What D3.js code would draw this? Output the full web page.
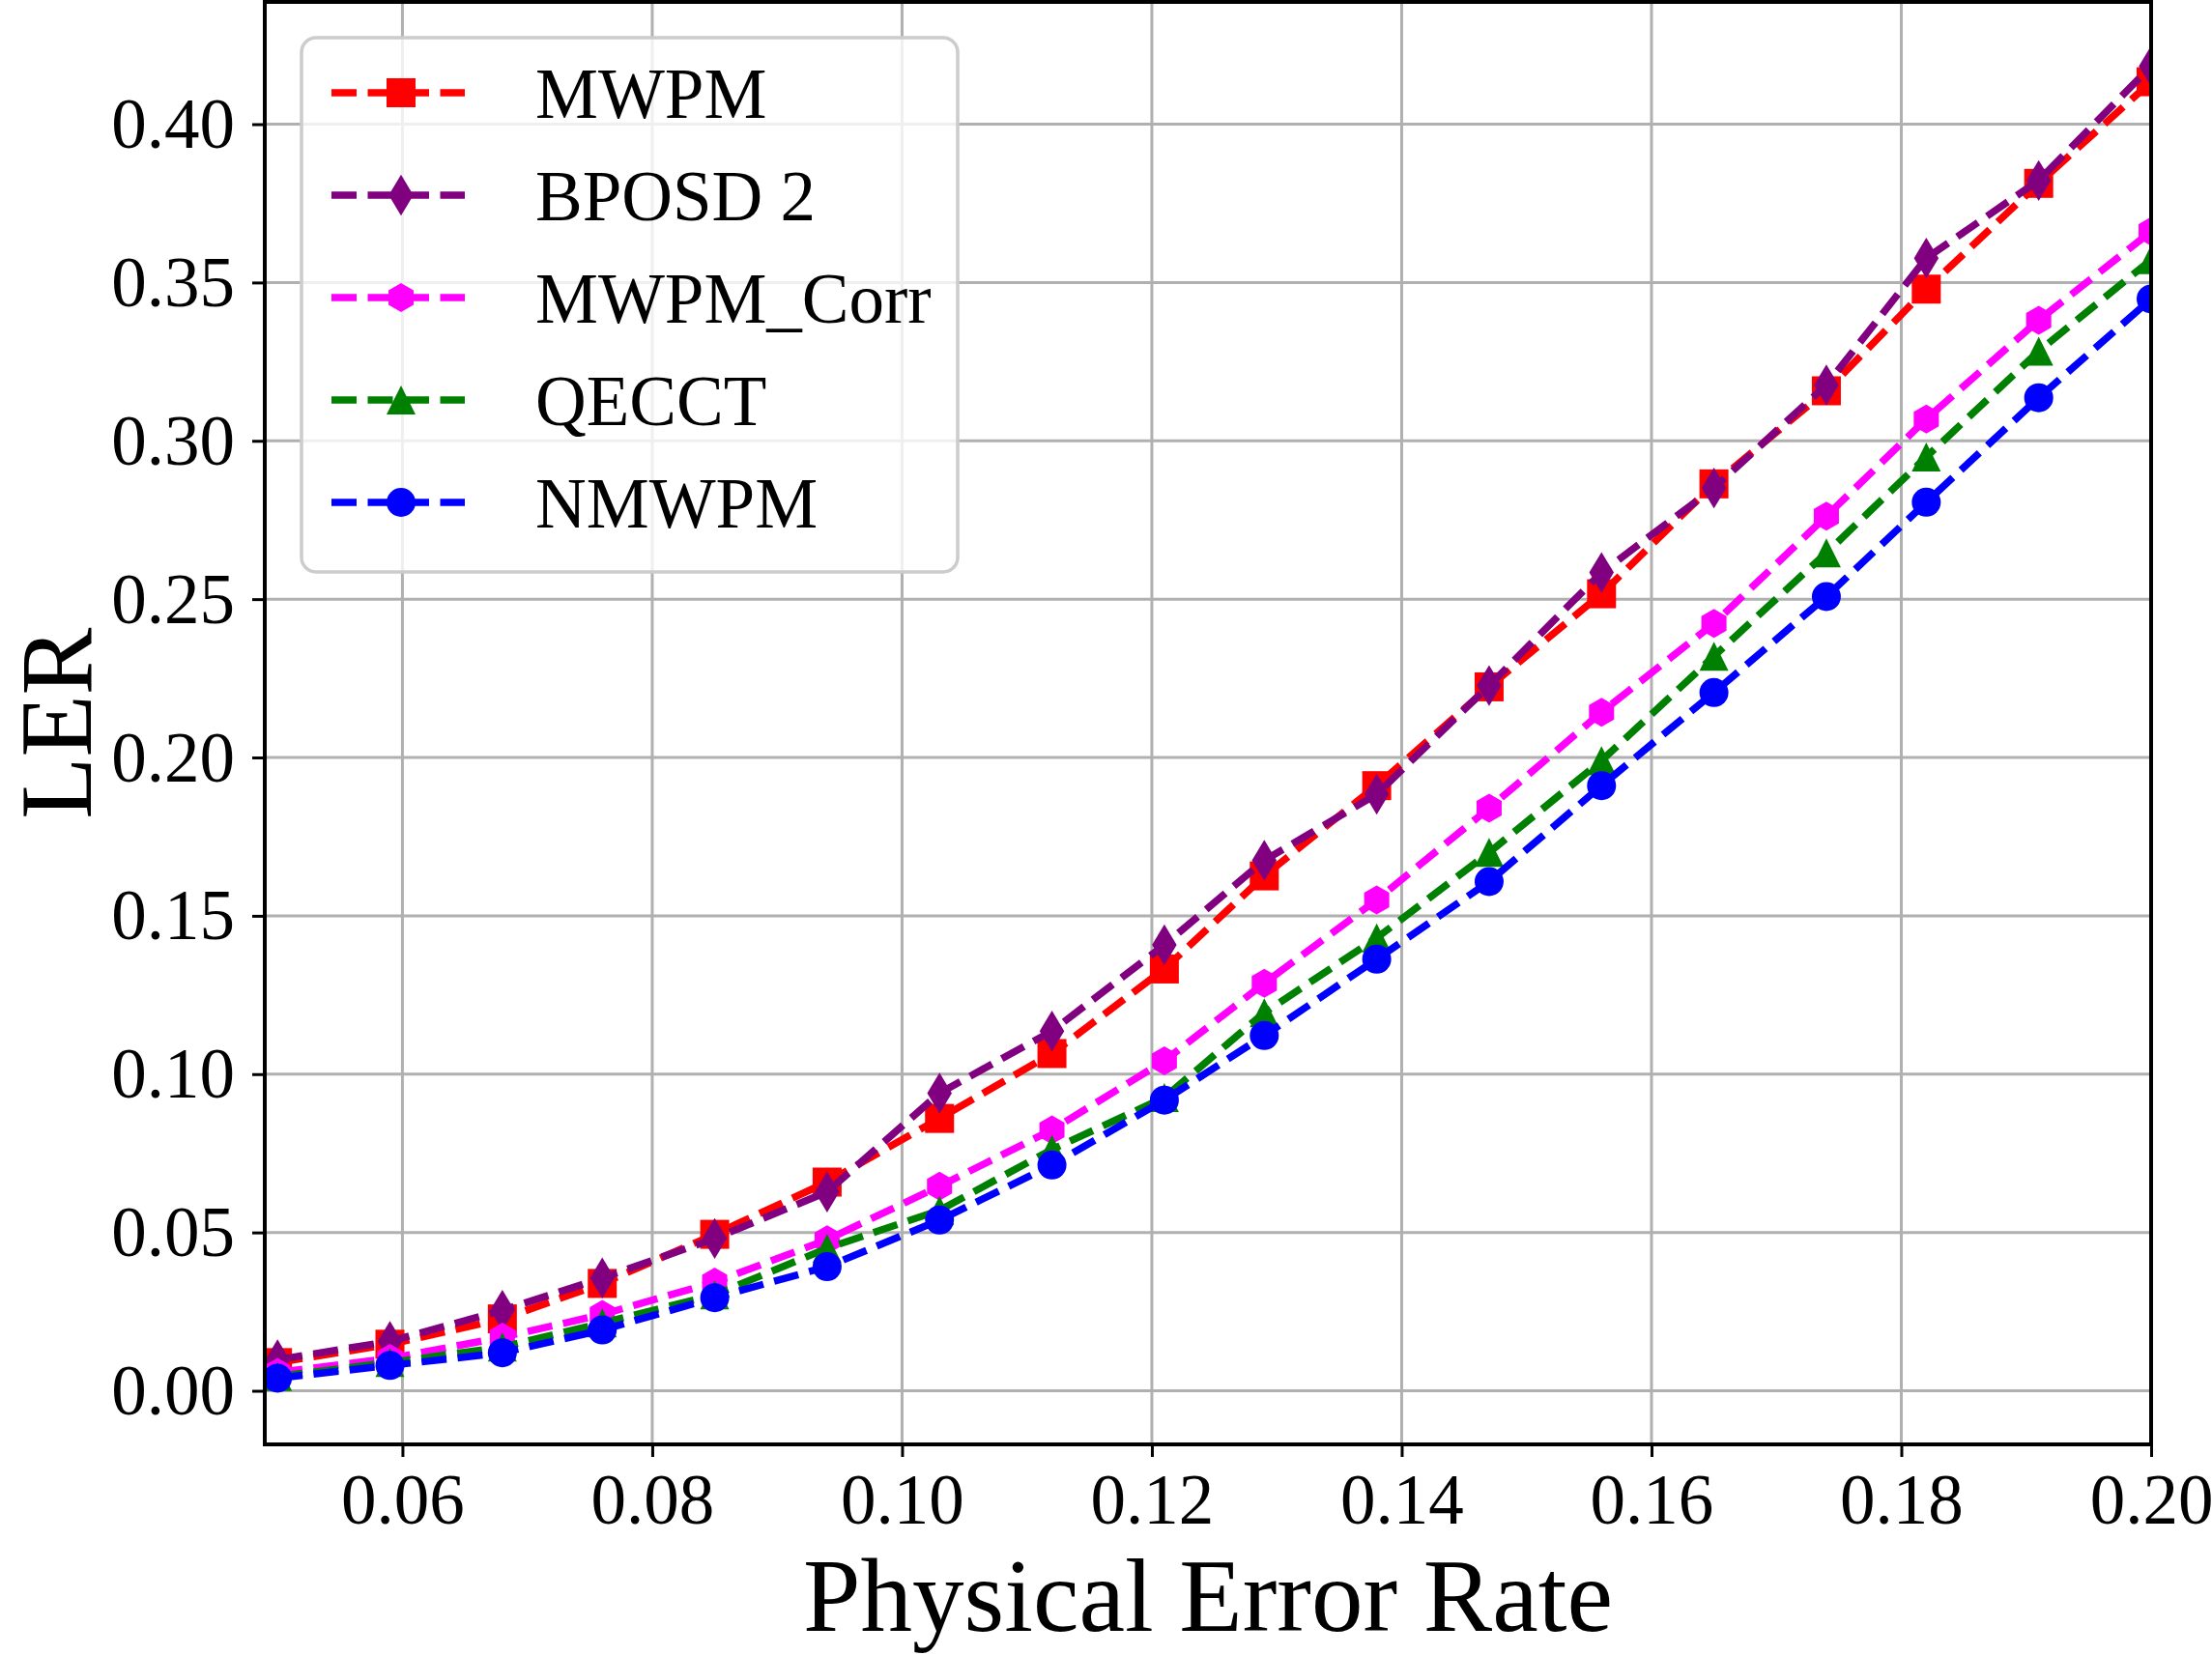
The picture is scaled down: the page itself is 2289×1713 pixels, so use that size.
<!DOCTYPE html>
<html>
<head>
<meta charset="utf-8">
<script src="https://cdn.jsdelivr.net/npm/d3@7"></script>
<style>
    body { margin: 0; background: #fff; }
    text { font-family: "Liberation Serif", "DejaVu Serif", serif; fill: #000; }
</style>
</head>
<body>
<div id="chart"></div>
<script>
// physical error rates (x)
const pRates = [0.05, 0.059, 0.068, 0.076, 0.085, 0.094, 0.103, 0.112, 0.121,
    0.129, 0.138, 0.147, 0.156, 0.165, 0.174, 0.182, 0.191, 0.2];

// logical error rates per decoder
const mwpm = [0.0089, 0.0147, 0.0227, 0.0339, 0.0494, 0.0659, 0.0860, 0.1065, 0.1332,
    0.1626, 0.1911, 0.2223, 0.2517, 0.2864, 0.3158, 0.3479, 0.3813, 0.4134];
const bposd2 = [0.0098, 0.0156, 0.0254, 0.0356, 0.0481, 0.0628, 0.0940, 0.1136, 0.1408,
    0.1675, 0.1884, 0.2227, 0.2584, 0.2851, 0.3176, 0.3577, 0.3822, 0.4183];
const mwpmCorr = [0.0058, 0.0102, 0.0169, 0.0241, 0.0343, 0.0477, 0.0646, 0.0824, 0.1042,
    0.1287, 0.1550, 0.1840, 0.2143, 0.2423, 0.2762, 0.3069, 0.3381, 0.3661];
const qecct = [0.0045, 0.0089, 0.0138, 0.0214, 0.0303, 0.0450, 0.0570, 0.0762, 0.0926,
    0.1194, 0.1430, 0.1700, 0.1990, 0.2320, 0.2646, 0.2949, 0.3283, 0.3572];
const nmwpm = [0.0040, 0.0080, 0.0120, 0.0192, 0.0294, 0.0392, 0.0539, 0.0713, 0.0918,
    0.1122, 0.1363, 0.1608, 0.1911, 0.2205, 0.2508, 0.2806, 0.3136, 0.3448];

const seriesNames = ["MWPM", "BPOSD 2", "MWPM_Corr", "QECCT", "NMWPM"];
const seriesColors = ["#ff0000", "#800080", "#ff00ff", "#008000", "#0000ff"];
const seriesMarkers = ["square", "thinDiamond", "hexagon", "triangle", "circle"];

const xTicks = [0.06, 0.08, 0.10, 0.12, 0.14, 0.16, 0.18, 0.20];
const yTicks = [0.00, 0.05, 0.10, 0.15, 0.20, 0.25, 0.30, 0.35, 0.40];

const series = [mwpm, bposd2, mwpmCorr, qecct, nmwpm].map((vals, i) => ({
    name: seriesNames[i],
    color: seriesColors[i],
    marker: seriesMarkers[i],
    points: vals.map((v, j) => ({ x: pRates[j], y: v }))
}));

const W = 2289, H = 1713;
const margin = { top: 2, right: 63, bottom: 218, left: 274 };
const width = W - margin.left - margin.right;
const height = H - margin.top - margin.bottom;

const ms = 30; // marker size in px
const lineW = 7.5;
const dash = "26,11.5";

// marker shapes, matplotlib-like
function markerPath(kind) {
    const p = d3.path();
    const r = ms / 2;
    const poly = pts => {
        p.moveTo(pts[0][0], pts[0][1]);
        pts.slice(1).forEach(q => p.lineTo(q[0], q[1]));
        p.closePath();
    };
    if (kind == "square") poly([[-r, -r], [r, -r], [r, r], [-r, r]]);
    else if (kind == "circle") { p.arc(0, 0, r, 0, 2 * Math.PI); }
    else if (kind == "triangle") poly([[0, -r], [r, r], [-r, r]]);
    else if (kind == "thinDiamond") {
        const h = ms * Math.SQRT2 / 2, w = 0.6 * h;
        poly([[0, -h], [w, 0], [0, h], [-w, 0]]);
    }
    else if (kind == "hexagon") {
        const pts = d3.range(6).map(k => {
            const a = -Math.PI / 2 + k * Math.PI / 3;
            return [r * Math.cos(a), r * Math.sin(a)];
        });
        poly(pts);
    }
    return p.toString();
}

const svg = d3.select("#chart").append("svg")
    .attr("width", W)
    .attr("height", H);

const g = svg.append("g")
    .attr("transform", `translate(${margin.left},${margin.top})`);

const x = d3.scaleLinear().domain([0.04898, 0.2]).range([0, width]);
const y = d3.scaleLinear().domain([-0.01693, 0.4386]).range([height, 0]);

svg.append("defs").append("clipPath")
    .attr("id", "plot-clip")
    .append("rect")
    .attr("width", width)
    .attr("height", height);

// grid
const grid = g.append("g");
grid.selectAll("line.gx")
    .data(xTicks)
    .join("line")
    .attr("class", "gx")
    .attr("x1", d => x(d)).attr("x2", d => x(d))
    .attr("y1", 0).attr("y2", height)
    .attr("stroke", "#b0b0b0")
    .attr("stroke-width", 3);
grid.selectAll("line.gy")
    .data(yTicks)
    .join("line")
    .attr("class", "gy")
    .attr("x1", 0).attr("x2", width)
    .attr("y1", d => y(d)).attr("y2", d => y(d))
    .attr("stroke", "#b0b0b0")
    .attr("stroke-width", 3);

// series
const plot = g.append("g").attr("clip-path", "url(#plot-clip)");
const line = d3.line().x(d => x(d.x)).y(d => y(d.y));

for (const s of series) {
    const sg = plot.append("g");
    sg.append("path")
        .datum(s.points)
        .attr("d", line)
        .attr("fill", "none")
        .attr("stroke", s.color)
        .attr("stroke-width", lineW)
        .attr("stroke-dasharray", dash)
        .attr("stroke-linejoin", "round");
    sg.selectAll("path.mk")
        .data(s.points)
        .join("path")
        .attr("class", "mk")
        .attr("d", markerPath(s.marker))
        .attr("transform", d => `translate(${x(d.x)},${y(d.y)})`)
        .attr("fill", s.color);
}

// axes
const xAxis = g.append("g")
    .attr("transform", `translate(0,${height})`)
    .call(d3.axisBottom(x).tickValues(xTicks).tickFormat(d3.format(".2f")).tickSize(13).tickPadding(17));
const yAxis = g.append("g")
    .call(d3.axisLeft(y).tickValues(yTicks).tickFormat(d3.format(".2f")).tickSize(13).tickPadding(18));

for (const ax of [xAxis, yAxis]) {
    ax.select(".domain").remove();
    ax.selectAll(".tick line").attr("stroke", "#000").attr("stroke-width", 3);
    ax.selectAll(".tick text")
        .attr("fill", "#000")
        .style("font-size", "73px")
        .style("font-family", "'Liberation Serif', serif");
}
yAxis.selectAll(".tick text").attr("dy", "0.33em");

// frame
g.append("rect")
    .attr("width", width)
    .attr("height", height)
    .attr("fill", "none")
    .attr("stroke", "#000")
    .attr("stroke-width", 4);

// axis labels
svg.append("text")
    .attr("x", margin.left + width / 2)
    .attr("y", 1688)
    .attr("text-anchor", "middle")
    .style("font-size", "107px")
    .text("Physical Error Rate");

svg.append("text")
    .attr("transform", `translate(94,${margin.top + height / 2}) rotate(-90)`)
    .attr("text-anchor", "middle")
    .style("font-size", "105px")
    .text("LER");

// legend
const legend = svg.append("g");
legend.append("rect")
    .attr("x", 312).attr("y", 39)
    .attr("width", 679).attr("height", 553)
    .attr("rx", 15).attr("ry", 15)
    .attr("fill", "#fff")
    .attr("fill-opacity", 0.8)
    .attr("stroke", "#cccccc")
    .attr("stroke-width", 3.5);

const rowY = d3.scalePoint().domain(seriesNames).range([96, 520]);

const item = legend.selectAll("g.item")
    .data(series)
    .join("g")
    .attr("class", "item")
    .attr("transform", d => `translate(0,${rowY(d.name)})`);

item.append("line")
    .attr("x1", 343).attr("x2", 481)
    .attr("stroke", d => d.color)
    .attr("stroke-width", lineW)
    .attr("stroke-dasharray", dash);
item.append("path")
    .attr("d", d => markerPath(d.marker))
    .attr("transform", "translate(415,0)")
    .attr("fill", d => d.color);
item.append("text")
    .attr("x", 554)
    .attr("dy", "0.35em")
    .style("font-size", "73px")
    .text(d => d.name);
</script>
</body>
</html>
